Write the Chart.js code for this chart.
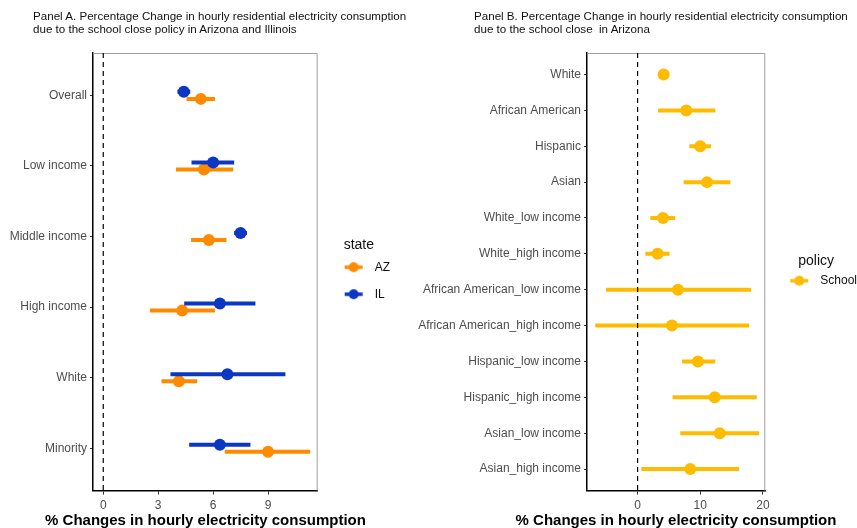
<!DOCTYPE html>
<html>
<head>
<meta charset="UTF-8">
<title>School close policy and residential electricity consumption</title>
<script src="https://cdn.jsdelivr.net/npm/chart.js@4.4.0/dist/chart.umd.min.js"></script>
<style>
  body { margin: 0; width: 857px; height: 528px; overflow: hidden; background: #fff; position: relative;
         font-family: "Liberation Sans", Arial, sans-serif; }
  .ttl { position: absolute; font-size: 11.6px; line-height: 13px; color: #111; z-index: 2; white-space: nowrap; }
  #ttlA { left: 33px; top: 9px; }
  #ttlB { left: 474px; top: 9px; }
  .xt { position: absolute; top: 512px; font-size: 15px; line-height: 16px; font-weight: bold; color: #000;
        text-align: center; white-space: nowrap; z-index: 2; }
  #xtA { left: 0; width: 411px; }
  #xtB { left: 496px; width: 360px; }
  canvas { position: absolute; top: 0; }
  #chartA { left: 0; }
  #chartB { left: 410px; }
</style>
</head>
<body>
<div class="ttl" id="ttlA">Panel A. Percentage Change in hourly residential electricity consumption<br>due to the school close policy in Arizona and Illinois</div>
<div class="ttl" id="ttlB">Panel B. Percentage Change in hourly residential electricity consumption<br>due to the school close&nbsp; in Arizona</div>
<div class="xt" id="xtA">% Changes in hourly electricity consumption</div>
<div class="xt" id="xtB">% Changes in hourly electricity consumption</div>
<canvas id="chartA" width="400" height="528"></canvas>
<canvas id="chartB" width="457" height="528"></canvas>
<script>
// Panel A: estimates and interval ends by state
var catsA = ["Overall", "Low income", "Middle income", "High income", "White", "Minority"];
var azEst = [5.33, 5.5, 5.77, 4.31, 4.13, 9.0];
var azLo  = [4.55, 3.97, 4.79, 2.55, 3.18, 6.64];
var azHi  = [6.1, 7.1, 6.73, 6.1, 5.13, 11.3];
var ilEst = [4.4, 6.0, 7.5, 6.37, 6.78, 6.37];
var ilLo  = [4.05, 4.82, 7.15, 4.42, 3.67, 4.69];
var ilHi  = [4.75, 7.15, 7.85, 8.31, 9.95, 8.04];
var ticksA = [0, 3, 6, 9];

// Panel B: school policy in Arizona
var catsB = ["White", "African American", "Hispanic", "Asian", "White_low income", "White_high income",
             "African American_low income", "African American_high income", "Hispanic_low income",
             "Hispanic_high income", "Asian_low income", "Asian_high income"];
var schEst = [4.15, 7.77, 10.0, 11.07, 4.05, 3.19, 6.44, 5.48, 9.63, 12.3, 13.1, 8.4];
var schLo  = [3.7, 3.25, 8.25, 7.34, 2.03, 1.23, -5.04, -6.75, 7.08, 5.58, 6.81, 0.59];
var schHi  = [4.6, 12.4, 11.7, 14.8, 6.0, 5.1, 18.1, 17.8, 12.4, 19.0, 19.4, 16.2];
var ticksB = [0, 10, 20];

var AZ = "#ff8a00", IL = "#0b37c4", SCHOOL = "#ffbb00";

Chart.defaults.font.family = '"Liberation Sans", Arial, sans-serif';

// interval segments, broken by empty points
function bars(lo, hi, off) {
  var out = [];
  for (var i = 0; i < lo.length; i++) {
    out.push({x: lo[i], y: i + off}, {x: hi[i], y: i + off}, {x: null, y: null});
  }
  return out;
}
function pts(est, off) {
  return est.map(function (v, i) { return {x: v, y: i + off}; });
}

// legend key: short line with a dot
function keyIcon(color) {
  var c = document.createElement("canvas");
  c.width = 36; c.height = 12;
  var g = c.getContext("2d");
  g.strokeStyle = color; g.lineWidth = 3.5;
  g.beginPath(); g.moveTo(12, 6); g.lineTo(30, 6); g.stroke();
  g.fillStyle = color;
  g.beginPath(); g.arc(21, 6, 5, 0, Math.PI * 2); g.fill();
  return c;
}

// grey top/right panel edge
var frame = {
  id: "frame",
  beforeDatasetsDraw: function (chart) {
    var a = chart.chartArea, g = chart.ctx;
    g.save();
    g.strokeStyle = "#a0a0a0"; g.lineWidth = 1;
    g.beginPath();
    g.moveTo(a.left, a.top + 0.5);
    g.lineTo(a.right - 0.5, a.top + 0.5);
    g.lineTo(a.right - 0.5, a.bottom);
    g.stroke();
    g.restore();
  }
};

function xScale(min, max, ticks) {
  return {
    type: "linear", min: min, max: max,
    afterBuildTicks: function (s) { s.ticks = ticks.map(function (v) { return {value: v}; }); },
    grid: {drawOnChartArea: false, tickLength: 4, color: "#333"},
    border: {color: "#000", width: 1.5},
    ticks: {color: "#4d4d4d", font: {size: 12}, padding: 4}
  };
}
function yScale(cats, w) {
  return {
    type: "linear", reverse: true, min: -0.6, max: cats.length - 0.4,
    afterBuildTicks: function (s) { s.ticks = cats.map(function (c, i) { return {value: i}; }); },
    afterFit: function (s) { s.width = w; },
    grid: {drawOnChartArea: false, tickLength: 3, color: "#333"},
    border: {color: "#000", width: 1.5},
    ticks: {color: "#4d4d4d", font: {size: 12}, padding: 3, autoSkip: false,
            callback: function (v) { return cats[v]; }}
  };
}
function legendOpts(title, items, pad) {
  return {
    position: "right",
    fullSize: false,
    onClick: null,
    title: {display: true, text: title, color: "#111", font: {size: 14}, padding: {top: 10, bottom: -9}},
    labels: {
      usePointStyle: true, pointStyleWidth: 36, padding: pad, color: "#111", font: {size: 12},
      generateLabels: function () {
        return items.map(function (it) {
          return {text: it[0], pointStyle: keyIcon(it[1]), fillStyle: it[1], strokeStyle: it[1],
                  lineWidth: 0, hidden: false};
        });
      }
    }
  };
}

var zeroLineA = [{x: 0, y: -0.6}, {x: 0, y: catsA.length - 0.4}];
var zeroLineB = [{x: 0, y: -0.6}, {x: 0, y: catsB.length - 0.4}];

new Chart(document.getElementById("chartA"), {
  type: "scatter",
  data: {
    datasets: [
      {label: "zero", data: zeroLineA, showLine: true, borderColor: "#000", borderWidth: 1.2,
       borderDash: [5, 4], pointRadius: 0},
      {label: "IL", data: pts(ilEst, -0.05), backgroundColor: IL, pointRadius: 6, borderWidth: 0},
      {label: "IL range", data: bars(ilLo, ilHi, -0.05), showLine: true, borderColor: IL,
       borderWidth: 4, pointRadius: 0},
      {label: "AZ", data: pts(azEst, 0.05), backgroundColor: AZ, pointRadius: 6, borderWidth: 0},
      {label: "AZ range", data: bars(azLo, azHi, 0.05), showLine: true, borderColor: AZ,
       borderWidth: 4, pointRadius: 0}
    ]
  },
  options: {
    responsive: false, animation: false, events: [],
    layout: {padding: {top: 53, left: 0, right: 0, bottom: 11}},
    scales: {x: xScale(-0.56, 11.71, ticksA), y: yScale(catsA, 93)},
    plugins: {
      legend: legendOpts("state", [["AZ", AZ], ["IL", IL]], 15),
      tooltip: {enabled: false}
    }
  },
  plugins: [frame]
});

new Chart(document.getElementById("chartB"), {
  type: "scatter",
  data: {
    datasets: [
      {label: "zero", data: zeroLineB, showLine: true, borderColor: "#000", borderWidth: 1.2,
       borderDash: [5, 4], pointRadius: 0},
      {label: "School", data: pts(schEst, 0), backgroundColor: SCHOOL, pointRadius: 6, borderWidth: 0},
      {label: "School range", data: bars(schLo, schHi, 0), showLine: true, borderColor: SCHOOL,
       borderWidth: 4, pointRadius: 0}
    ]
  },
  options: {
    responsive: false, animation: false, events: [],
    layout: {padding: {top: 53, left: 0, right: 0, bottom: 11}},
    scales: {x: xScale(-8.07, 20.37, ticksB), y: yScale(catsB, 177)},
    plugins: {
      legend: legendOpts("policy", [["School", SCHOOL]], 13),
      tooltip: {enabled: false}
    }
  },
  plugins: [frame]
});
</script>
</body>
</html>
